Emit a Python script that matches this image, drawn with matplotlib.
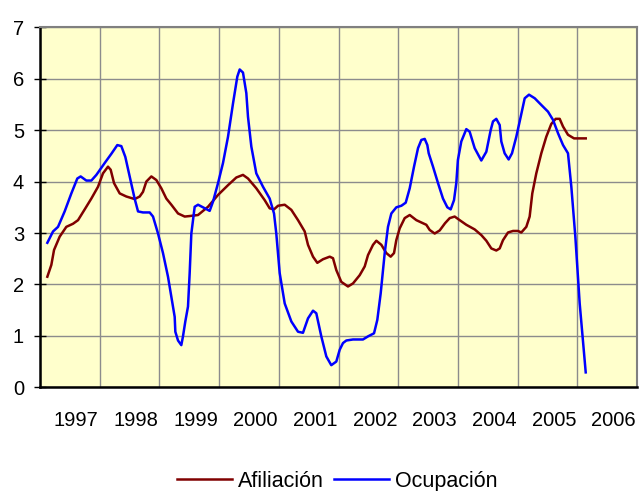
import numpy as np
import matplotlib
matplotlib.use('Agg')
import matplotlib.pyplot as plt

plt.rcParams['font.family'] = ['Liberation Sans', 'DejaVu Sans']

years = ['1997', '1998', '1999', '2000', '2001', '2002', '2003', '2004', '2005', '2006']

# position along the axis in years from the left edge (1997 block starts at 0)
afil_x = [0.123, 0.190, 0.235, 0.330, 0.441, 0.553, 0.637, 0.749, 0.860, 0.972,
          1.055, 1.139, 1.184, 1.240, 1.335, 1.446, 1.586, 1.670, 1.725, 1.781,
          1.865, 1.949, 2.032, 2.116, 2.200, 2.312, 2.424, 2.507, 2.647, 2.814,
          2.982, 3.149, 3.289, 3.400, 3.484, 3.623, 3.763, 3.847, 3.920, 3.987,
          4.099, 4.210, 4.322, 4.434, 4.489, 4.573, 4.645, 4.740, 4.853, 4.908,
          4.963, 5.047, 5.159, 5.243, 5.355, 5.439, 5.494, 5.578, 5.634, 5.718,
          5.801, 5.874, 5.930, 5.968, 6.025, 6.109, 6.193, 6.304, 6.415, 6.471,
          6.527, 6.611, 6.695, 6.784, 6.863, 6.946, 7.030, 7.141, 7.281, 7.392,
          7.476, 7.560, 7.643, 7.700, 7.755, 7.839, 7.923, 8.007, 8.062, 8.146,
          8.202, 8.246, 8.313, 8.397, 8.480, 8.564, 8.638, 8.705, 8.761, 8.844,
          8.945, 9.040, 9.141]
afil_y = [2.15, 2.38, 2.67, 2.93, 3.12, 3.18, 3.25, 3.46, 3.67, 3.90,
          4.16, 4.29, 4.23, 3.97, 3.77, 3.71, 3.66, 3.71, 3.80, 4.00,
          4.10, 4.03, 3.87, 3.67, 3.55, 3.38, 3.32, 3.33, 3.35, 3.51,
          3.74, 3.93, 4.08, 4.13, 4.06, 3.87, 3.64, 3.48, 3.46, 3.53,
          3.55, 3.45, 3.25, 3.03, 2.77, 2.54, 2.42, 2.49, 2.54, 2.51,
          2.28, 2.05, 1.96, 2.02, 2.18, 2.35, 2.57, 2.77, 2.85, 2.77,
          2.61, 2.54, 2.61, 2.86, 3.09, 3.29, 3.35, 3.25, 3.19, 3.16,
          3.06, 2.99, 3.05, 3.19, 3.29, 3.32, 3.25, 3.16, 3.07, 2.96,
          2.85, 2.70, 2.66, 2.70, 2.86, 3.01, 3.04, 3.04, 3.01, 3.12,
          3.32, 3.77, 4.16, 4.55, 4.87, 5.12, 5.22, 5.22, 5.07, 4.91,
          4.84, 4.84, 4.84]

ocup_x = [0.123, 0.218, 0.302, 0.413, 0.525, 0.625, 0.681, 0.776, 0.860, 0.944,
          1.083, 1.195, 1.295, 1.362, 1.429, 1.502, 1.585, 1.642, 1.725, 1.837,
          1.893, 1.977, 2.060, 2.144, 2.200, 2.256, 2.267, 2.312, 2.367, 2.395,
          2.434, 2.479, 2.507, 2.535, 2.591, 2.647, 2.730, 2.842, 2.898, 2.982,
          3.065, 3.149, 3.233, 3.305, 3.345, 3.400, 3.456, 3.484, 3.540, 3.623,
          3.735, 3.847, 3.920, 3.958, 4.015, 4.099, 4.210, 4.322, 4.405, 4.489,
          4.573, 4.628, 4.712, 4.796, 4.879, 4.963, 5.020, 5.075, 5.131, 5.243,
          5.410, 5.494, 5.595, 5.650, 5.707, 5.774, 5.829, 5.885, 5.969, 6.053,
          6.126, 6.193, 6.265, 6.332, 6.388, 6.444, 6.488, 6.511, 6.583, 6.667,
          6.750, 6.823, 6.879, 6.935, 6.973, 7.000, 7.057, 7.141, 7.197, 7.281,
          7.392, 7.476, 7.549, 7.588, 7.643, 7.700, 7.727, 7.783, 7.850, 7.906,
          7.978, 8.052, 8.119, 8.191, 8.287, 8.397, 8.509, 8.593, 8.677, 8.761,
          8.844, 8.900, 8.967, 9.040, 9.141]
ocup_y = [2.81, 3.03, 3.12, 3.42, 3.77, 4.06, 4.10, 4.02, 4.02, 4.13,
          4.36, 4.54, 4.71, 4.69, 4.48, 4.10, 3.67, 3.42, 3.40, 3.40,
          3.32, 2.99, 2.61, 2.15, 1.76, 1.37, 1.08, 0.91, 0.82, 0.99,
          1.28, 1.57, 2.22, 2.99, 3.51, 3.55, 3.50, 3.43, 3.61, 3.97,
          4.36, 4.87, 5.52, 6.04, 6.18, 6.12, 5.72, 5.26, 4.68, 4.16,
          3.90, 3.67, 3.38, 2.99, 2.22, 1.63, 1.28, 1.08, 1.06, 1.34,
          1.49, 1.44, 0.99, 0.60, 0.43, 0.50, 0.73, 0.86, 0.91, 0.93,
          0.93, 0.99, 1.05, 1.31, 1.83, 2.61, 3.12, 3.38, 3.50, 3.53,
          3.59, 3.87, 4.29, 4.65, 4.81, 4.83, 4.71, 4.55, 4.29, 3.97,
          3.67, 3.50, 3.46, 3.64, 3.97, 4.42, 4.78, 5.02, 4.97, 4.65,
          4.41, 4.58, 5.00, 5.17, 5.22, 5.10, 4.78, 4.55, 4.43, 4.55,
          4.87, 5.26, 5.62, 5.69, 5.62, 5.49, 5.36, 5.20, 4.94, 4.71,
          4.55, 3.90, 2.93, 1.63, 0.29]

fig = plt.figure(figsize=(6.42, 4.91), dpi=100)
ax = fig.add_axes([40 / 642, 1 - 387.3 / 491, 597 / 642, 360 / 491])
ax.set_facecolor('#FFFFCC')

ax.plot(afil_x, afil_y, color='#800000', lw=1.8, label='Afiliación', zorder=3)
ax.plot(ocup_x, ocup_y, color='#0000FF', lw=1.8, label='Ocupación', zorder=3)

ax.set_xlim(0, 10)
ax.set_ylim(0, 7)
ax.set_yticks(range(8))
ax.set_xticks(range(11))
ax.set_xticklabels([])
ax.set_xticks(np.arange(1, 11) - 0.02, minor=True)
ax.set_xticklabels(years, minor=True, ha='right')
ax.tick_params(axis='x', which='both', length=0)
ax.tick_params(axis='x', which='minor', pad=17, labelsize=14.5)
ax.tick_params(axis='y', direction='inout', length=9, width=1, labelsize=14.5, pad=7)
ax.grid(True, which='major', color='#8c8c8c', lw=1, zorder=1)

for s in ['left', 'bottom']:
    ax.spines[s].set_color('black')
    ax.spines[s].set_linewidth(1.8)
for s in ['top', 'right']:
    ax.spines[s].set_color('#808080')
    ax.spines[s].set_linewidth(1.5)

fig.legend(loc='center', bbox_to_anchor=(337.5 / 642, 1 - 481.5 / 491), ncol=2,
           frameon=False, fontsize=15.5, handlelength=2.56, handletextpad=0.28,
           columnspacing=0.47, borderaxespad=0, borderpad=0)

fig.savefig('out.png', dpi=100)
